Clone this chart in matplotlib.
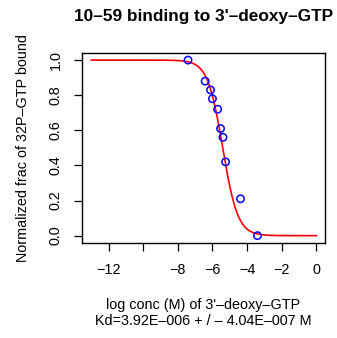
import numpy as np
import matplotlib
matplotlib.use("Agg")
import matplotlib.pyplot as plt

plt.rcParams['font.family'] = ['Liberation Sans', 'DejaVu Sans']

# measured binding points: log10 concentration (M) vs normalized fraction bound
log_conc = [-7.41, -6.42, -6.11, -6.00, -5.70, -5.53, -5.39, -5.24, -4.38, -3.40]
frac_bound = [1.00, 0.88, 0.83, 0.78, 0.72, 0.61, 0.56, 0.42, 0.21, 0.00]

kd = 3.92e-6
kd_err = 4.04e-7
x_ticks = [-12, -10, -8, -6, -4, -2, 0]
x_ticklabels = ['\u221212', '', '\u22128', '\u22126', '\u22124', '\u22122', '0']
y_ticks = [0.0, 0.2, 0.4, 0.6, 0.8, 1.0]

DASH = '\u2013'


def sci3(v):
    # 3.92E-006 style, three digit exponent
    mant, exp = ('%.2E' % v).split('E')
    e = int(exp)
    sign = DASH if e < 0 else '+'
    return '%sE%s%03d' % (mant, sign, abs(e))


fig = plt.figure(figsize=(3.37, 3.38), dpi=100)
ax = fig.add_axes([0.2424, 0.281, 0.722, 0.563])

# fitted single-site binding curve
xs = np.linspace(-13, 0, 400)
ys = 1.0 / (1.0 + 10 ** (xs - np.log10(kd)))
ax.plot(xs, ys, color='red', lw=1.2)
ax.scatter(log_conc, frac_bound, s=28, facecolors='none', edgecolors='blue', linewidths=1.1, zorder=3)

ax.set_xlim(-13.55, 0.5)
ax.set_ylim(-0.042, 1.042)
ax.set_xticks(x_ticks)
ax.set_xticklabels(x_ticklabels)
ax.set_yticks(y_ticks)
ax.set_yticklabels(['%.1f' % v for v in y_ticks], rotation=90, va='center')
ax.tick_params(direction='out', length=5.5, width=0.9, labelsize=10.4)
ax.tick_params(axis='x', pad=9)
ax.tick_params(axis='y', pad=8)
for sp in ax.spines.values():
    sp.set_linewidth(1.0)

fig.text(0.603, 0.950, "10" + DASH + "59 binding to 3'" + DASH + "deoxy" + DASH + "GTP",
         fontsize=12.4, fontweight='bold', ha='center', va='center')
fig.text(0.068, 0.562, 'Normalized frac of 32P' + DASH + 'GTP bound', fontsize=10.4,
         rotation=90, ha='center', va='center')
fig.text(0.603, 0.0976, "log conc (M) of 3'" + DASH + "deoxy" + DASH + "GTP",
         fontsize=10.4, ha='center', va='center')
fig.text(0.603, 0.050, 'Kd=%s + / %s %s M' % (sci3(kd), DASH, sci3(kd_err)),
         fontsize=10.4, ha='center', va='center')

fig.savefig('out.png', dpi=100)
